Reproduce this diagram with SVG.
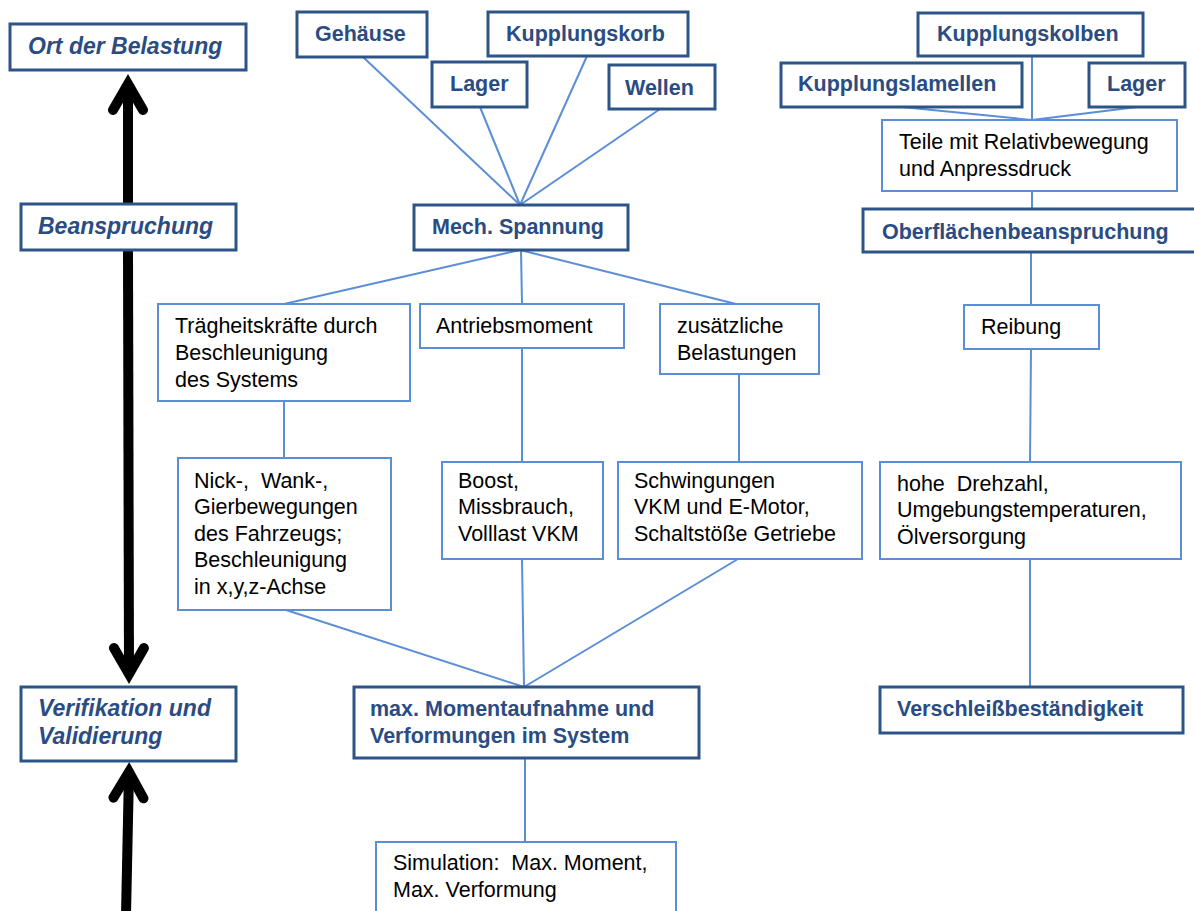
<svg xmlns="http://www.w3.org/2000/svg" width="1194" height="911" viewBox="0 0 1194 911">
  <style>
    .dark { fill: #ffffff; stroke: #2c5486; stroke-width: 3; }
    .light { fill: #ffffff; stroke: #5b8ed6; stroke-width: 2; }
    .conn { stroke: #5b8ed6; stroke-width: 2; fill: none; }
    .axis { stroke: #000000; stroke-width: 10; fill: none; }
    .hd { font-family: "Liberation Sans", Arial, sans-serif; font-weight: bold; font-size: 21.5px; fill: #2a4c82; }
    .hi { font-family: "Liberation Sans", Arial, sans-serif; font-weight: bold; font-style: italic; font-size: 23px; fill: #2a4c82; }
    .tx { font-family: "Liberation Sans", Arial, sans-serif; font-size: 21.5px; fill: #000000; white-space: pre; }
  </style>
  <defs>
    <marker id="chev" markerUnits="userSpaceOnUse" markerWidth="60" markerHeight="60" viewBox="-40 -30 60 60" refX="0" refY="0" orient="auto" overflow="visible">
      <path d="M-26,-15 L0,0 L-26,15" fill="none" stroke="#000000" stroke-width="10" stroke-linecap="round" stroke-linejoin="miter"/>
    </marker>
  </defs>
  <rect width="1194" height="911" fill="#ffffff"/>

  <!-- connectors -->
  <g id="connectors">
    <line class="conn" x1="363" y1="57" x2="520" y2="205"/>
    <line class="conn" x1="480" y1="107" x2="520" y2="205"/>
    <line class="conn" x1="587" y1="56" x2="520" y2="205"/>
    <line class="conn" x1="660" y1="109" x2="520" y2="205"/>
    <line class="conn" x1="520" y1="250" x2="284" y2="304"/>
    <line class="conn" x1="521" y1="250" x2="522" y2="304"/>
    <line class="conn" x1="520" y1="250" x2="736" y2="304"/>
    <line class="conn" x1="284" y1="401" x2="284" y2="458"/>
    <line class="conn" x1="522" y1="348" x2="522" y2="462"/>
    <line class="conn" x1="739" y1="374" x2="739" y2="462"/>
    <line class="conn" x1="286" y1="610" x2="524" y2="687"/>
    <line class="conn" x1="522" y1="559" x2="524" y2="687"/>
    <line class="conn" x1="738" y1="559" x2="524" y2="687"/>
    <line class="conn" x1="525" y1="758" x2="525" y2="842"/>
    <line class="conn" x1="1032" y1="56" x2="1032" y2="120"/>
    <line class="conn" x1="902" y1="107" x2="1032" y2="120"/>
    <line class="conn" x1="1137" y1="107" x2="1032" y2="120"/>
    <line class="conn" x1="1032" y1="191" x2="1032" y2="209"/>
    <line class="conn" x1="1031" y1="252" x2="1031" y2="305"/>
    <line class="conn" x1="1031" y1="349" x2="1030" y2="462"/>
    <line class="conn" x1="1030" y1="559" x2="1030" y2="687"/>
    <!-- bold axis arrows on the left -->
    <line class="axis" x1="128" y1="204" x2="128" y2="84" marker-end="url(#chev)"/>
    <line class="axis" x1="128" y1="250" x2="129" y2="674" marker-end="url(#chev)"/>
    <line class="axis" x1="126" y1="915" x2="129" y2="772" marker-end="url(#chev)"/>
  </g>

  <!-- left column -->
  <g id="ort">
    <rect class="dark" x="10" y="24" width="236" height="46"/>
    <text class="hi" x="28" y="54">Ort der Belastung</text>
  </g>
  <g id="beanspruchung">
    <rect class="dark" x="21" y="204" width="215" height="46"/>
    <text class="hi" x="38" y="234">Beanspruchung</text>
  </g>
  <g id="verifikation">
    <rect class="dark" x="21" y="687" width="215" height="74"/>
    <text class="hi" x="38" y="716">Verifikation und</text>
    <text class="hi" x="38" y="744">Validierung</text>
  </g>

  <!-- middle column -->
  <g id="gehaeuse">
    <rect class="dark" x="297" y="12" width="130" height="45"/>
    <text class="hd" x="315" y="41">Gehäuse</text>
  </g>
  <g id="lager1">
    <rect class="dark" x="432" y="62" width="95" height="45"/>
    <text class="hd" x="450" y="91">Lager</text>
  </g>
  <g id="kupplungskorb">
    <rect class="dark" x="488" y="12" width="200" height="44"/>
    <text class="hd" x="506" y="41">Kupplungskorb</text>
  </g>
  <g id="wellen">
    <rect class="dark" x="609" y="65" width="106" height="44"/>
    <text class="hd" x="625" y="95">Wellen</text>
  </g>
  <g id="mech">
    <rect class="dark" x="414" y="205" width="214" height="45"/>
    <text class="hd" x="432" y="234">Mech. Spannung</text>
  </g>
  <g id="traegheit">
    <rect class="light" x="158" y="304" width="252" height="97"/>
    <text class="tx" x="175" y="333">Trägheitskräfte durch</text>
    <text class="tx" x="175" y="360">Beschleunigung</text>
    <text class="tx" x="175" y="387">des Systems</text>
  </g>
  <g id="antrieb">
    <rect class="light" x="420" y="304" width="204" height="44"/>
    <text class="tx" x="436" y="333">Antriebsmoment</text>
  </g>
  <g id="zusaetzlich">
    <rect class="light" x="660" y="304" width="159" height="70"/>
    <text class="tx" x="677" y="333">zusätzliche</text>
    <text class="tx" x="677" y="360">Belastungen</text>
  </g>
  <g id="nick">
    <rect class="light" x="178" y="458" width="213" height="152"/>
    <text class="tx" x="194" y="488" xml:space="preserve">Nick-,  Wank-,</text>
    <text class="tx" x="194" y="514">Gierbewegungen</text>
    <text class="tx" x="194" y="541">des Fahrzeugs;</text>
    <text class="tx" x="194" y="567">Beschleunigung</text>
    <text class="tx" x="194" y="594">in x,y,z-Achse</text>
  </g>
  <g id="boost">
    <rect class="light" x="442" y="462" width="161" height="97"/>
    <text class="tx" x="458" y="488">Boost,</text>
    <text class="tx" x="458" y="514">Missbrauch,</text>
    <text class="tx" x="458" y="541">Volllast VKM</text>
  </g>
  <g id="schwingungen">
    <rect class="light" x="618" y="462" width="244" height="97"/>
    <text class="tx" x="634" y="488">Schwingungen</text>
    <text class="tx" x="634" y="514">VKM und E-Motor,</text>
    <text class="tx" x="634" y="541">Schaltstöße Getriebe</text>
  </g>
  <g id="moment">
    <rect class="dark" x="354" y="687" width="345" height="71"/>
    <text class="hd" x="370" y="716">max. Momentaufnahme und</text>
    <text class="hd" x="370" y="743">Verformungen im System</text>
  </g>
  <g id="simulation">
    <rect class="light" x="376" y="842" width="300" height="80"/>
    <text class="tx" x="393" y="870" xml:space="preserve">Simulation:  Max. Moment,</text>
    <text class="tx" x="393" y="897">Max. Verformung</text>
  </g>

  <!-- right column -->
  <g id="kupplungskolben">
    <rect class="dark" x="918" y="13" width="225" height="43"/>
    <text class="hd" x="937" y="41">Kupplungskolben</text>
  </g>
  <g id="kupplungslamellen">
    <rect class="dark" x="781" y="63" width="241" height="44"/>
    <text class="hd" x="798" y="91">Kupplungslamellen</text>
  </g>
  <g id="lager2">
    <rect class="dark" x="1089" y="63" width="96" height="44"/>
    <text class="hd" x="1107" y="91">Lager</text>
  </g>
  <g id="teile">
    <rect class="light" x="882" y="120" width="295" height="71"/>
    <text class="tx" x="899" y="149">Teile mit Relativbewegung</text>
    <text class="tx" x="899" y="176">und Anpressdruck</text>
  </g>
  <g id="oberflaeche">
    <rect class="dark" x="863" y="209" width="345" height="43"/>
    <text class="hd" x="882" y="239">Oberflächenbeanspruchung</text>
  </g>
  <g id="reibung">
    <rect class="light" x="964" y="305" width="135" height="44"/>
    <text class="tx" x="981" y="334">Reibung</text>
  </g>
  <g id="drehzahl">
    <rect class="light" x="880" y="462" width="301" height="97"/>
    <text class="tx" x="897" y="491" xml:space="preserve">hohe  Drehzahl,</text>
    <text class="tx" x="897" y="517">Umgebungstemperaturen,</text>
    <text class="tx" x="897" y="544">Ölversorgung</text>
  </g>
  <g id="verschleiss">
    <rect class="dark" x="880" y="687" width="303" height="46"/>
    <text class="hd" x="897" y="716">Verschleißbeständigkeit</text>
  </g>
</svg>
